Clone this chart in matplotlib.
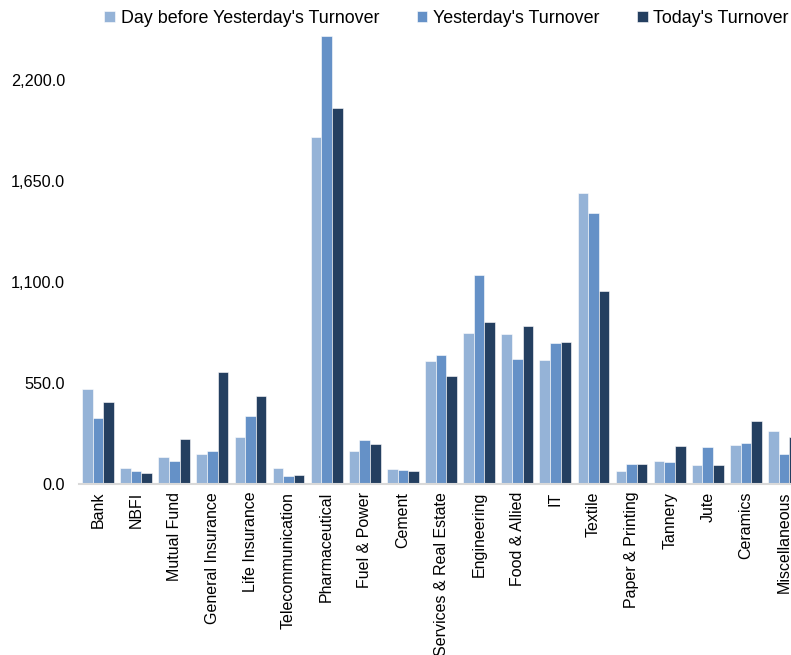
import numpy as np
import matplotlib
matplotlib.use('Agg')
from matplotlib import pyplot as plt
from matplotlib.ticker import FuncFormatter

plt.rcParams['font.family'] = ['Liberation Sans', 'DejaVu Sans']

sectors = ['Bank', 'NBFI', 'Mutual Fund', 'General Insurance', 'Life Insurance',
           'Telecommunication', 'Pharmaceutical', 'Fuel & Power', 'Cement',
           'Services & Real Estate', 'Engineering', 'Food & Allied', 'IT', 'Textile',
           'Paper & Printing', 'Tannery', 'Jute', 'Ceramics', 'Miscellaneous']

day_before = [514, 86, 145, 159, 252, 86, 1890, 177, 77, 670, 820, 818, 674, 1587,
              70, 123, 101, 208, 287]
yesterday = [356, 68, 124, 179, 368, 41, 2443, 237, 72, 701, 1140, 680, 767, 1478,
             106, 117, 201, 223, 159]
today = [447, 56, 241, 609, 479, 48, 2051, 214, 68, 588, 883, 858, 772, 1052,
         106, 206, 101, 340, 255]

series_names = ["Day before Yesterday's Turnover", "Yesterday's Turnover", "Today's Turnover"]
colors = ['#95B3D7', '#6591C7', '#243F60']

fig = plt.figure(figsize=(7.91, 6.55), dpi=100)
# axes runs past the right and top edge, the source picture is cropped
ax = fig.add_axes([79 / 791, 171.5 / 655, 724 / 791, 503.8 / 655])

x = np.arange(len(sectors))
w = 0.278
for i, (vals, name) in enumerate(zip([day_before, yesterday, today], series_names)):
    ax.bar(x + (i - 1) * w, vals, width=w, color=colors[i], label=name,
           edgecolor='white', linewidth=0.4)

ax.set_xlim(-0.5, len(sectors) - 0.5)
ax.set_ylim(0, 2750)
ax.set_yticks([0, 550, 1100, 1650, 2200])
ax.yaxis.set_major_formatter(FuncFormatter(lambda v, p: '{:,.1f}'.format(v)))
ax.tick_params(axis='y', length=0, labelsize=11.7, pad=10)
ax.set_xticks(x)
ax.set_xticklabels(sectors, rotation=90, fontsize=11.5, va='top', ha='center')
ax.tick_params(axis='x', length=0, pad=6)

for s in ['left', 'right', 'top']:
    ax.spines[s].set_visible(False)
ax.spines['bottom'].set_color('#D9D9D9')
ax.spines['bottom'].set_linewidth(1.5)

fig.legend(loc='center', bbox_to_anchor=(0.5645, 0.9725), ncol=3, frameon=False,
           fontsize=12.9, handlelength=0.6, handleheight=0.6, handletextpad=0.3,
           columnspacing=2.1, borderaxespad=0, borderpad=0)

plt.savefig('out.png', dpi=100)
plt.close()
